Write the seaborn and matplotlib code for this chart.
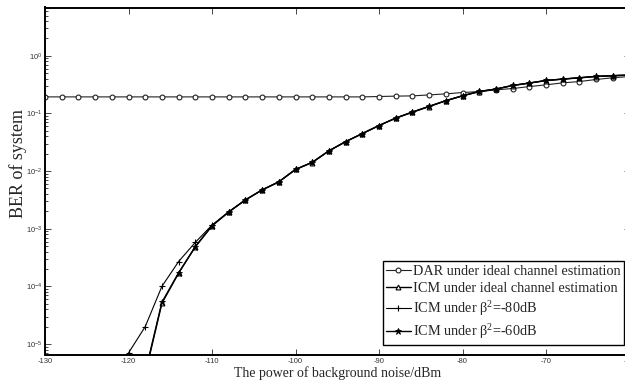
import numpy as np
import pandas as pd
import matplotlib
matplotlib.use("Agg")
import matplotlib.pyplot as plt
from matplotlib.ticker import LogLocator, NullFormatter, FixedLocator, FixedFormatter
import seaborn as sns

# ---------------- data ----------------
noise_all = list(range(-130, -59, 2))
dar_ber = [0.194] * 20 + [0.197, 0.200, 0.202, 0.210, 0.219, 0.231, 0.240, 0.257,
                          0.271, 0.293, 0.314, 0.340, 0.358, 0.389, 0.417, 0.437]

noise_icm = list(range(-118, -59, 2))
icm_ideal_ber = [3.0e-6, 5.1e-5, 1.7e-4, 4.9e-4, 1.12e-3, 1.95e-3, 3.16e-3, 4.7e-3,
                 6.5e-3, 1.07e-2, 1.41e-2, 2.24e-2, 3.24e-2, 4.47e-2, 6.17e-2,
                 8.3e-2, 0.105, 0.132, 0.166, 0.202, 0.240, 0.264, 0.305, 0.336,
                 0.372, 0.394, 0.415, 0.438, 0.452, 0.462]
icm_60_ber = [3.2e-6, 5.3e-5, 1.72e-4, 4.85e-4, 1.13e-3, 1.96e-3, 3.17e-3, 4.72e-3,
              6.52e-3, 1.07e-2, 1.42e-2, 2.25e-2, 3.25e-2, 4.48e-2, 6.18e-2,
              8.32e-2, 0.106, 0.133, 0.167, 0.203, 0.241, 0.266, 0.307, 0.338,
              0.374, 0.396, 0.417, 0.440, 0.454, 0.464]
noise_80 = list(range(-120, -59, 2))
icm_80_ber = [7.0e-6, 2.0e-5, 1.0e-4, 2.7e-4, 5.8e-4, 1.16e-3, 1.96e-3, 3.17e-3,
              4.72e-3, 6.52e-3, 1.07e-2, 1.42e-2, 2.25e-2, 3.25e-2, 4.48e-2,
              6.18e-2, 8.32e-2, 0.106, 0.133, 0.167, 0.203, 0.241, 0.266, 0.307,
              0.338, 0.374, 0.396, 0.417, 0.440, 0.454, 0.464]

labels = ["DAR under ideal channel estimation",
          "ICM under ideal channel estimation",
          r"ICM under β$^{2}$=-80dB",
          r"ICM under β$^{2}$=-60dB"]

xticks = [-130, -120, -110, -100, -90, -80, -70, -60]
xticklabels = ["-130", "-120", "-110", "-100", "-90", "-80", "-70", "-60"]
yticks = [1e-5, 1e-4, 1e-3, 1e-2, 1e-1, 1e0]
yticklabels = [r"$\mathsf{10^{-5}}$", r"$\mathsf{10^{-4}}$", r"$\mathsf{10^{-3}}$",
               r"$\mathsf{10^{-2}}$", r"$\mathsf{10^{-1}}$", r"$\mathsf{10^{0}}$"]

# ---------------- style ----------------
sns.set_style("ticks")
plt.rcParams["font.family"] = ["Liberation Serif", "DejaVu Serif"]
plt.rcParams["mathtext.fontset"] = "custom"
plt.rcParams["mathtext.rm"] = "Liberation Serif"
plt.rcParams["mathtext.it"] = "Liberation Serif:italic"
plt.rcParams["mathtext.sf"] = "Liberation Sans"
plt.rcParams["axes.unicode_minus"] = False

fig = plt.figure(figsize=(6.25, 3.85), dpi=100)
ax = fig.add_axes([45 / 625, 30 / 385, 584.5 / 625, 347.5 / 385])

df_dar = pd.DataFrame({"x": noise_all, "y": dar_ber})
df_ideal = pd.DataFrame({"x": noise_icm, "y": icm_ideal_ber})
df_80 = pd.DataFrame({"x": noise_80, "y": icm_80_ber})
df_60 = pd.DataFrame({"x": noise_icm, "y": icm_60_ber})

sns.lineplot(data=df_dar, x="x", y="y", ax=ax, color="#222222", lw=0.8,
             marker="o", markersize=3.5, markerfacecolor="white",
             markeredgecolor="#222222", markeredgewidth=0.8, label=labels[0])
sns.lineplot(data=df_ideal, x="x", y="y", ax=ax, color="black", lw=1.0,
             marker="^", markersize=3.5, markerfacecolor="white",
             markeredgecolor="black", markeredgewidth=0.8, label=labels[1])
sns.lineplot(data=df_80, x="x", y="y", ax=ax, color="black", lw=0.8,
             marker="+", markersize=4, markeredgecolor="black",
             markeredgewidth=0.8, label=labels[2])
sns.lineplot(data=df_60, x="x", y="y", ax=ax, color="black", lw=1.0,
             marker="*", markersize=4.5, markerfacecolor="black",
             markeredgecolor="black", markeredgewidth=0.6, label=labels[3])

ax.set_yscale("log")
ax.set_xlim(-130, -60)
ax.set_ylim(6.45e-6, 6.9)

ax.xaxis.set_major_locator(FixedLocator(xticks))
ax.xaxis.set_major_formatter(FixedFormatter(xticklabels))
ax.yaxis.set_major_locator(FixedLocator(yticks))
ax.yaxis.set_major_formatter(FixedFormatter(yticklabels))
ax.yaxis.set_minor_locator(LogLocator(base=10, subs=np.arange(2, 10), numticks=20))
ax.yaxis.set_minor_formatter(NullFormatter())

ax.tick_params(which="both", direction="in", top=True, right=True,
               labelsize=5.5, labelcolor="#333333", pad=2, width=0.6)
ax.tick_params(which="major", length=4)
ax.tick_params(which="minor", length=2)
for lab in ax.get_xticklabels() + ax.get_yticklabels():
    lab.set_fontfamily(["Liberation Sans", "DejaVu Sans"])

for sp in ax.spines.values():
    sp.set_linewidth(1.4)
    sp.set_color("black")

ax.set_xlabel("The power of background noise/dBm", fontsize=10, labelpad=1)
ax.set_ylabel("BER of system", fontsize=13)
ax.yaxis.set_label_coords(-0.031, 0.55)

leg = ax.legend(loc="lower right", bbox_to_anchor=(0.9906, 0.029),
                borderaxespad=0, fancybox=False, framealpha=1, edgecolor="black",
                fontsize=10.3, handlelength=1.7, handletextpad=0.15,
                labelspacing=0.3, borderpad=0.25)
leg.get_frame().set_linewidth(1.0)

fig.savefig("out.png", dpi=100)
